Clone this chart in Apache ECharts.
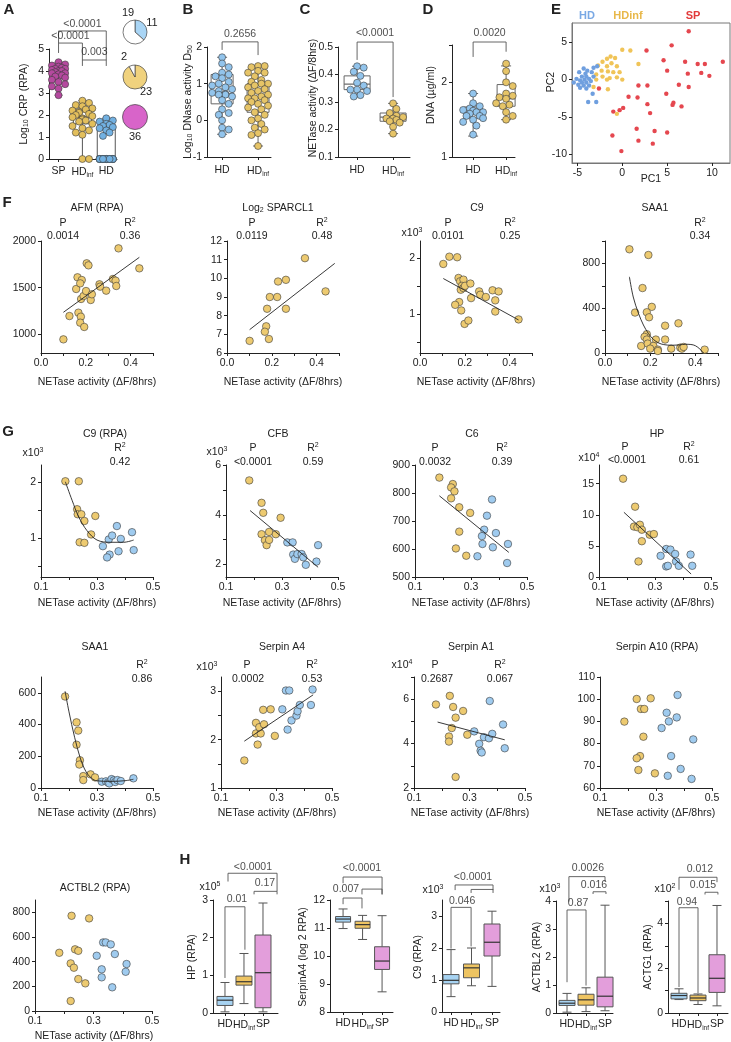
<!DOCTYPE html>
<html><head><meta charset="utf-8">
<script src="https://cdn.jsdelivr.net/npm/echarts@6/dist/echarts.min.js"></script>
<style>html,body{margin:0;padding:0;background:#fff}#c{width:731px;height:1042px}</style>
</head><body><div id="c"></div><script>
// ================= DATA =================
const A_cats = ['SP','HDinf','HD'];
const A_SP = [4.4,4.3,4.25,4.2,4.15,4.1,4.1,4.05,4.0,4.0,3.95,3.9,3.9,3.85,3.8,3.75,3.7,3.6,3.5,3.4,3.3,3.2,2.9];
const A_HDinf = [2.65,2.55,2.45,2.4,2.3,2.25,2.2,2.15,2.1,2.05,2.0,1.95,1.9,1.85,1.8,1.75,1.7,1.6,1.5,1.4,1.3,1.2,1.1,0,0];
const A_HD = [1.85,1.75,1.7,1.6,1.55,1.5,1.45,1.4,1.3,1.2,1.05,0,0,0,0,0,0,0,0,0,0,0,0,0,0,0,0,0,0,0];
const A_box = [[2.9,3.7,3.95,4.15,4.4],[0,1.6,1.9,2.2,2.65],[0,0,0,1.4,1.85]];
const A_pieHD = [11,19], A_pieHDinf = [23,2], A_pieSP = [36];
const A_p = ['<0.0001','<0.0001','0.003'];

const BD_cats = ['HD','HDinf'];
const B_HD = [1.72,1.55,1.45,1.3,1.25,1.2,1.15,1.05,1.0,0.95,0.9,0.85,0.8,0.75,0.72,0.7,0.7,0.65,0.55,0.45,0.3,0.2,0.15,0.0,-0.2,-0.25,-0.38];
const B_HDinf = [1.48,1.48,1.45,1.35,1.3,1.3,1.2,1.1,1.05,1.0,1.0,0.95,0.9,0.85,0.8,0.75,0.7,0.65,0.6,0.6,0.55,0.5,0.45,0.4,0.35,0.3,0.22,0.15,0.05,0.0,-0.1,-0.2,-0.25,-0.35,-0.4,-0.7];
const B_box = [[-0.38,0.45,0.72,1.25,1.72],[-0.7,0.22,0.62,1.0,1.48]];
const B_p = '0.2656';
const C_HD = [0.43,0.425,0.41,0.395,0.37,0.36,0.345,0.345,0.34,0.325,0.32];
const C_HDinf = [0.295,0.275,0.26,0.25,0.245,0.24,0.24,0.235,0.23,0.225,0.21,0.185];
const C_box = [[0.32,0.345,0.365,0.395,0.43],[0.185,0.23,0.245,0.26,0.295]];
const C_p = '<0.0001';
const D_HD = [1.85,1.72,1.68,1.65,1.63,1.62,1.6,1.6,1.58,1.55,1.55,1.52,1.5,1.47,1.42,1.3];
const D_HDinf = [2.25,2.15,2.0,1.95,1.85,1.82,1.8,1.78,1.75,1.72,1.7,1.68,1.6,1.55,1.5];
const D_box = [[1.28,1.52,1.6,1.67,1.85],[1.5,1.68,1.78,1.97,2.22]];
const D_p = '0.0020';

const E_HD = [[-4.3,1.5],[-3.9,1.2],[-4.8,1.0],[-4.1,0.8],[-3.4,1.0],[-4.5,0.4],[-4.0,0.4],[-5.1,0.1],[-4.7,-0.1],[-4.2,0.0],[-3.7,0.1],[-3.2,0.4],[-4.5,-0.4],[-4.0,-0.4],[-4.9,-0.7],[-4.3,-0.8],[-3.7,-0.8],[-4.7,-1.1],[-4.0,-1.2],[-3.3,-1.9],[-3.8,-3.0],[-2.9,-3.0],[-2.8,1.8],[-3.2,1.6],[-5.4,-0.4],[-3.5,-0.2]];
const E_HDinf = [[0.0,4.0],[0.9,3.9],[-1.3,3.1],[-1.7,2.8],[-0.8,2.9],[-2.2,2.4],[-1.2,2.2],[1.8,2.1],[-2.7,1.9],[-1.7,1.8],[-0.6,1.8],[-2.3,1.2],[-1.6,1.1],[-1.0,1.0],[-0.3,1.0],[-2.9,0.7],[-2.2,0.4],[-1.4,0.2],[-0.6,0.3],[0.0,0.0],[-2.9,0.0],[-1.7,0.0],[-3.2,-1.0],[-1.6,-1.3],[-0.6,-4.6]];
const E_SP = [[7.4,6.5],[5.5,4.6],[2.7,3.9],[4.6,2.6],[5.0,1.2],[7.0,2.4],[8.4,2.1],[9.2,2.1],[11.2,2.4],[8.8,0.9],[7.3,0.8],[9.7,0.5],[-2.6,-1.2],[1.8,-0.8],[2.8,-0.8],[6.3,-0.7],[7.4,-1.0],[4.9,-1.9],[0.7,-2.3],[1.7,-2.4],[5.7,-3.1],[5.6,-3.4],[2.8,-3.3],[6.6,-3.6],[0.1,-3.8],[-0.3,-4.1],[-1.0,-4.3],[3.1,-4.5],[1.6,-6.6],[3.6,-6.9],[5.0,-7.1],[-1.1,-7.5],[1.8,-8.2],[3.4,-8.6],[-0.1,-9.6]];

const F_AFM = [[0.100,946],[0.127,1196],[0.157,1486],[0.163,1611],[0.182,1582],[0.175,1546],[0.167,1232],[0.178,1189],[0.175,1125],[0.193,1079],[0.179,1379],[0.190,1411],[0.201,1464],[0.204,1761],[0.212,1739],[0.222,1368],[0.227,1429],[0.261,1536],[0.264,1511],[0.291,1468],[0.321,1593],[0.333,1575],[0.336,1518],[0.346,1921],[0.439,1707]];
const F_AFM_fit = [[0.10,1236],[0.439,1825]];
const F_SPARCL1 = [[0.101,6.65],[0.175,7.43],[0.169,7.14],[0.187,6.75],[0.179,8.37],[0.191,9.0],[0.224,9.0],[0.228,9.83],[0.263,9.92],[0.263,8.37],[0.348,11.08],[0.440,9.3]];
const F_SPARCL1_fit = [[0.101,7.25],[0.481,10.8]];
const F_C9 = [[0.104,1.89],[0.131,2.02],[0.166,2.01],[0.172,1.64],[0.179,1.58],[0.194,1.61],[0.187,1.50],[0.182,1.43],[0.194,1.46],[0.201,1.50],[0.225,1.54],[0.175,1.21],[0.157,1.16],[0.184,1.06],[0.199,0.82],[0.216,0.88],[0.228,1.28],[0.264,1.40],[0.269,1.34],[0.294,1.30],[0.324,1.42],[0.351,1.40],[0.336,1.24],[0.336,1.04],[0.440,0.90]];
const F_C9_fit = [[0.104,1.63],[0.44,0.89]];
const F_SAA1 = [[0.108,926],[0.192,875],[0.166,580],[0.133,361],[0.207,412],[0.185,364],[0.195,319],[0.325,265],[0.266,244],[0.266,120],[0.185,168],[0.175,144],[0.185,120],[0.225,120],[0.160,63],[0.189,84],[0.214,63],[0.200,39],[0.234,30],[0.234,18],[0.293,39],[0.333,48],[0.340,39],[0.348,54],[0.441,30]];
const F_SAA1_fit = [[0.108,680],[0.125,500],[0.148,355],[0.17,250],[0.192,174],[0.215,120],[0.237,90],[0.26,75],[0.296,69],[0.33,72],[0.355,78],[0.38,76],[0.4,65],[0.42,35],[0.436,0]];
const F_stats = [['0.0014','0.36'],['0.0119','0.48'],['0.0101','0.25'],[null,'0.34']];

const G_C9_inf = [[0.187,2.01],[0.235,2.01],[0.229,1.51],[0.231,1.42],[0.244,1.42],[0.255,1.30],[0.294,1.39],[0.279,1.06],[0.238,0.92],[0.255,0.91]];
const G_C9_hd = [[0.321,0.85],[0.342,0.97],[0.354,1.04],[0.371,1.21],[0.385,0.98],[0.425,1.10],[0.431,0.78],[0.377,0.76],[0.345,0.70],[0.336,0.65]];
const G_C9_fit = [[0.187,2.0],[0.211,1.67],[0.235,1.37],[0.264,1.13],[0.3,0.96],[0.348,0.92],[0.395,0.92],[0.431,0.96]];
const G_CFB_inf = [[0.183,5.38],[0.227,4.48],[0.233,4.08],[0.227,3.22],[0.239,2.98],[0.245,2.78],[0.254,2.99],[0.254,3.31],[0.278,3.22],[0.295,3.88]];
const G_CFB_hd = [[0.319,2.89],[0.338,2.89],[0.340,2.40],[0.346,2.23],[0.355,2.42],[0.370,2.42],[0.376,2.29],[0.385,1.99],[0.423,2.12],[0.429,2.78]];
const G_CFB_fit = [[0.186,4.17],[0.429,1.89]];
const G_C6_inf = [[0.187,855],[0.235,832],[0.229,820],[0.241,806],[0.229,781],[0.258,749],[0.297,729],[0.258,662],[0.246,602],[0.283,576]];
const G_C6_hd = [[0.375,777],[0.357,719],[0.347,669],[0.339,646],[0.389,657],[0.341,618],[0.378,606],[0.432,618],[0.323,574],[0.429,550]];
const G_C6_fit = [[0.187,790],[0.435,588]];
const G_HP_inf = [[0.186,15.8],[0.229,11.3],[0.225,8.1],[0.237,8.0],[0.246,8.4],[0.253,7.6],[0.253,5.75],[0.281,6.8],[0.296,6.9],[0.241,2.5]];
const G_HP_hd = [[0.320,3.4],[0.340,4.5],[0.355,4.4],[0.372,3.7],[0.375,2.5],[0.340,1.7],[0.346,1.8],[0.385,1.8],[0.427,3.6],[0.433,1.8]];
const G_HP_fit = [[0.189,10.4],[0.429,0.48]];
const G_SAA1_inf = [[0.186,577],[0.227,414],[0.233,362],[0.227,273],[0.239,175],[0.237,148],[0.251,75],[0.251,50],[0.277,86],[0.293,67]];
const G_SAA1_hd = [[0.317,40],[0.332,42],[0.340,35],[0.344,29],[0.352,56],[0.360,48],[0.365,38],[0.373,50],[0.385,44],[0.430,61]];
const G_SAA1_fit = [[0.186,610],[0.2,480],[0.22,320],[0.24,190],[0.26,105],[0.28,62],[0.3,45],[0.35,42],[0.4,46],[0.43,55]];
const G_A4_inf = [[0.184,1.57],[0.226,2.35],[0.226,2.13],[0.243,2.13],[0.238,2.26],[0.255,2.32],[0.232,1.90],[0.252,2.62],[0.279,2.63],[0.294,2.08]];
const G_A4_hd = [[0.321,2.63],[0.334,3.02],[0.346,3.02],[0.340,2.21],[0.354,2.40],[0.372,2.50],[0.376,2.59],[0.384,2.72],[0.424,2.72],[0.430,3.04]];
const G_A4_fit = [[0.184,1.97],[0.432,2.93]];
const G_A1_inf = [[0.179,5.76],[0.229,6.15],[0.241,5.65],[0.277,5.47],[0.250,5.17],[0.236,4.70],[0.292,4.40],[0.226,4.32],[0.226,4.09],[0.250,2.50]];
const G_A1_hd = [[0.317,4.55],[0.352,4.29],[0.370,4.24],[0.382,4.44],[0.373,5.92],[0.421,4.86],[0.335,3.99],[0.340,3.68],[0.344,3.60],[0.427,3.79]];
const G_A1_fit = [[0.185,4.97],[0.427,4.17]];
const G_A10_inf = [[0.187,89.9],[0.231,100.1],[0.281,100.4],[0.246,95.6],[0.258,95.6],[0.255,83.1],[0.243,74.4],[0.231,73.4],[0.237,68.1],[0.296,66.6]];
const G_A10_hd = [[0.338,93.9],[0.374,91.8],[0.346,90.0],[0.320,87.0],[0.377,101.9],[0.433,81.9],[0.354,74.4],[0.388,68.6],[0.342,65.5],[0.427,64.1]];
const G_ACT_inf = [[0.183,472],[0.225,772],[0.285,751],[0.237,500],[0.248,488],[0.222,386],[0.233,351],[0.248,259],[0.272,224],[0.222,81]];
const G_ACT_hd = [[0.311,448],[0.333,556],[0.342,556],[0.359,540],[0.373,462],[0.413,381],[0.410,318],[0.328,338],[0.328,273],[0.364,192]];
const G_stats = {C9:[null,'0.42'],CFB:['<0.0001','0.59'],C6:['0.0032','0.39'],HP:['<0.0001','0.61'],SAA1:[null,'0.86'],A4:['0.0002','0.53'],A1:['0.2687','0.067']};

const H_cats = ['HD','HDinf','SP'];
const H_HP = [[0.03,0.2,0.34,0.44,0.81],[0.25,0.74,0.83,0.98,1.58],[0.03,0.14,1.07,2.07,2.92]];
const H_A4 = [[10.98,11.21,11.32,11.41,11.68],[10.59,10.99,11.12,11.24,11.45],[8.72,9.52,9.82,10.33,11.44]];
const H_C9 = [[0.48,0.88,0.99,1.17,1.95],[0.82,1.07,1.38,1.5,2.0],[0.8,1.75,2.18,2.75,3.15]];
const H_ACTBL2 = [[0.03,0.27,0.35,0.45,0.7],[0.05,0.28,0.47,0.67,0.9],[0.08,0.22,0.6,1.28,3.85]];
const H_ACTG1 = [[0.6,0.63,0.78,0.88,1.08],[0.38,0.55,0.67,0.8,0.85],[0.32,0.92,1.55,2.6,4.8]];
const H_p = {HP:['<0.0001','0.17','0.01'],A4:['<0.0001','0.007'],C9:['<0.0001','0.046'],ACTBL2:['0.0026','0.016','0.87'],ACTG1:['0.012','0.015','0.94']};

// ================= STYLE / HELPERS =================
const FONT = '"Liberation Sans", Arial, Helvetica, sans-serif';
const INK = '#222';
const YEL = '#edca70', BLU = '#9fcbef', PUR = '#b5499f';
const FS = 10.5;
const RICH_AX = {
  n:{fontSize:FS,fontFamily:FONT,color:INK},
  s:{fontSize:6.5,fontFamily:FONT,color:INK,padding:[6,0,0,0]}
};
const RICHG = {
  n:{fontSize:FS,fontFamily:FONT,fill:INK,color:INK},
  sub:{fontSize:7,fontFamily:FONT,fill:INK,color:INK,padding:[5,0,0,0]},
  sup:{fontSize:7,fontFamily:FONT,fill:INK,color:INK,padding:[0,0,6,0]}
};
const grids=[], xAxes=[], yAxes=[], series=[], graphics=[];
const PI2 = Math.PI/2;

function catLab(name){ return name==='HDinf' ? '{n|HD}{s|inf}' : '{n|'+name+'}'; }
function ax(min,max,ticks,labels,fmt,extra){
  return Object.assign({
    type:'value', min, max,
    axisLine:{show:true,onZero:false,lineStyle:{color:INK,width:1}},
    axisTick:{show:true,length:3,customValues:ticks,lineStyle:{color:INK,width:1}},
    axisLabel:{show:true,customValues:labels,formatter:fmt,fontFamily:FONT,fontSize:FS,color:INK,margin:5,rich:RICH_AX},
    splitLine:{show:false}
  }, extra||{});
}
function addGrid(left,top,width,height,xa,ya,gextra){
  const i=grids.length;
  grids.push(Object.assign({left,top,width,height,containLabel:false},gextra||{}));
  xa.gridIndex=i; ya.gridIndex=i; xAxes.push(xa); yAxes.push(ya);
  return i;
}
function T(x,y,text,o){
  o=o||{};
  const st={text, fill:o.color||INK, fontSize:o.size||FS, fontFamily:FONT, fontWeight:o.bold?'bold':'normal',
    align:o.align||'center', verticalAlign:'middle', textAlign:o.align||'center', textVerticalAlign:'middle'};
  if(o.rich) st.rich=RICHG;
  graphics.push({type:'text', x, y, rotation:o.rot||0, silent:true, z:100, style:st});
}
function pts(gi,data,color,size,z){
  series.push({type:'scatter',xAxisIndex:gi,yAxisIndex:gi,data,symbolSize:size||7.5,silent:true,animation:false,z:z||3,
    itemStyle:{color,borderColor:'#3a3a3a',borderWidth:0.6,opacity:1}});
}
function fit(gi,data,smooth){
  series.push({type:'line',xAxisIndex:gi,yAxisIndex:gi,data,symbol:'none',smooth:smooth?0.35:false,silent:true,animation:false,z:4,
    lineStyle:{color:'#222',width:0.9}});
}
function bracket(gi,x1,x2,y,b1,b2,label,lx,ly){
  series.push({type:'line',xAxisIndex:gi,yAxisIndex:gi,data:[[x1,b1],[x1,y],[x2,y],[x2,b2]],symbol:'none',clip:false,silent:true,animation:false,z:5,
    lineStyle:{color:'#555',width:0.9}});
  if(label!==null && label!==undefined){
    series.push({type:'scatter',xAxisIndex:gi,yAxisIndex:gi,data:[[lx,ly]],symbolSize:1,clip:false,silent:true,animation:false,z:6,
      itemStyle:{color:'rgba(0,0,0,0)'},
      label:{show:true,position:'inside',formatter:label,fontFamily:FONT,fontSize:FS,color:INK}});
  }
}
function boxes(gi,bx,colors,halfW,capHalf,stroke,medColor,z){
  series.push({type:'custom',xAxisIndex:gi,yAxisIndex:gi,silent:true,animation:false,clip:false,z:z||2,
    data:bx.map((b,i)=>[i].concat(b)),
    encode:{x:0,y:[1,2,3,4,5]},
    renderItem:function(params,api){
      const x=api.value(0);
      const p=[1,2,3,4,5].map(k=>api.coord([x,api.value(k)]));
      const cx=p[0][0], col=colors[params.dataIndex];
      const ls={stroke,lineWidth:1,fill:null};
      return {type:'group',children:[
        {type:'line',shape:{x1:cx,y1:p[0][1],x2:cx,y2:p[1][1]},style:ls},
        {type:'line',shape:{x1:cx,y1:p[3][1],x2:cx,y2:p[4][1]},style:ls},
        {type:'line',shape:{x1:cx-capHalf,y1:p[0][1],x2:cx+capHalf,y2:p[0][1]},style:ls},
        {type:'line',shape:{x1:cx-capHalf,y1:p[4][1],x2:cx+capHalf,y2:p[4][1]},style:ls},
        {type:'rect',shape:{x:cx-halfW,y:p[3][1],width:2*halfW,height:Math.max(0.5,p[1][1]-p[3][1])},style:{fill:col,stroke,lineWidth:1}},
        {type:'line',shape:{x1:cx-halfW,y1:p[2][1],x2:cx+halfW,y2:p[2][1]},style:{stroke:medColor,lineWidth:1.2}}
      ]};
    }});
}
function swarm(vals,pxX,pxY,r,maxPx){
  const order=vals.map((v,i)=>i).sort((a,b)=>vals[b]-vals[a]);
  const placed=[], off=new Array(vals.length).fill(0);
  const step=r*0.95, cands=[0];
  for(let k=1;k*step<=maxPx;k++){cands.push(k*step,-k*step);}
  let fb=0;
  order.forEach(i=>{
    const yp=vals[i]*pxY;
    let c=cands.find(cx=>placed.every(p=>(p[0]-cx)*(p[0]-cx)+(p[1]-yp)*(p[1]-yp)>=(1.75*r)*(1.75*r)));
    if(c===undefined){c=cands[fb++%cands.length];}
    placed.push([c,yp]); off[i]=c/pxX;
  });
  return off;
}
function dots(gi,cat,vals,color,pxX,pxY,maxPx,size){
  const off=swarm(vals,pxX,pxY,(size||7)/2,maxPx);
  pts(gi,vals.map((v,i)=>[cat+off[i],v]),color,size||7);
}
const f1=v=>v.toFixed(1), f0=v=>String(v);
const catFmt=cats=>(v=>catLab(cats[Math.round(v)]));
const NET='NETase activity (ΔF/8hrs)';

// ================= PANEL A =================
let g = addGrid(49,49,68,110, ax(-0.4,2.45,[0,1,2],[0,1,2],catFmt(A_cats),{axisLabel:{customValues:[0,1,2],formatter:catFmt(A_cats),fontFamily:FONT,fontSize:FS,color:INK,margin:7,rich:RICH_AX}}),
  ax(0,5,[0,1,2,3,4,5],[0,1,2,3,4,5],f0));
boxes(g,A_box,['rgba(255,255,255,0)','rgba(255,255,255,0)','rgba(255,255,255,0)'],9,4,'#555','#555',2);
dots(g,0,A_SP,PUR,24,22,9,7);
dots(g,1,A_HDinf,'#e3bf5c',24,22,10,7);
dots(g,2,A_HD,'#72b1e2',24,22,9,7);
bracket(g,0,2,5.82,5.27,4.5,A_p[0],1.0,6.14);
bracket(g,0,1,5.27,4.82,4.5,A_p[1],0.5,5.6);
bracket(g,1,2,4.5,4.23,4.23,A_p[2],1.5,4.84);
const pieBase={type:'pie',radius:12,startAngle:90,clockwise:true,silent:true,animation:false,label:{show:false},labelLine:{show:false},itemStyle:{borderColor:'#444',borderWidth:0.7}};
series.push(Object.assign({},pieBase,{center:[135,32],data:A_pieHD.map((v,i)=>({value:v,itemStyle:{color:i?'#ffffff':'#a9d5f5'}}))}));
series.push(Object.assign({},pieBase,{center:[135,77],data:A_pieHDinf.map((v,i)=>({value:v,itemStyle:{color:i?'#ffffff':'#f0d27e'}}))}));
series.push(Object.assign({},pieBase,{center:[135,117],radius:12.5,data:A_pieSP.map(v=>({value:v,itemStyle:{color:'#d864c9'}}))}));
T(128,13,String(A_pieHD[1]),{size:11}); T(152,23,String(A_pieHD[0]),{size:11});
T(124,57,String(A_pieHDinf[1]),{size:11}); T(146,92,String(A_pieHDinf[0]),{size:11});
T(135,137,String(A_pieSP[0]),{size:11});
T(9,10,'A',{bold:true,size:15});
T(24,104,'{n|Log}{sub|10}{n| CRP (RPA)}',{rot:PI2,rich:true});

// ================= PANEL B =================
const catAxBD = (min,max)=>ax(min,max,[0,1],[0,1],catFmt(BD_cats),{axisLabel:{customValues:[0,1],formatter:catFmt(BD_cats),fontFamily:FONT,fontSize:FS,color:INK,margin:8,rich:RICH_AX}});
g = addGrid(207,47,64,110, catAxBD(-0.42,1.36), ax(-1,2,[-1,0,1,2],[-1,0,1,2],f0));
boxes(g,B_box,['rgba(255,255,255,0)','rgba(255,255,255,0)'],11,5,'#666','#666',2);
dots(g,0,B_HD,'#92c4ec',36,36.7,13,7);
dots(g,1,B_HDinf,'#e6c467',36,36.7,13,7);
bracket(g,0,1,2.14,1.92,1.78,B_p,0.5,2.36);
T(188,10,'B',{bold:true,size:15});
T(188,102,'{n|Log}{sub|10}{n| DNase activity D}{sub|50}',{rot:PI2,rich:true});

// ================= PANEL C =================
g = addGrid(338,47,72,110, catAxBD(-0.53,1.47), ax(0.1,0.5,[0.1,0.2,0.3,0.4,0.5],[0.1,0.2,0.3,0.4,0.5],f1));
boxes(g,C_box,['rgba(255,255,255,0)','rgba(255,255,255,0)'],13,5,'#666','#666',2);
dots(g,0,C_HD,'#92c4ec',36,275,13,7);
dots(g,1,C_HDinf,'#e6c467',36,275,13,7);
bracket(g,0,1,0.518,0.453,0.318,C_p,0.5,0.551);
T(305,10,'C',{bold:true,size:15});
T(313,98,NET,{rot:PI2});

// ================= PANEL D =================
g = addGrid(452,45,63,112, catAxBD(-0.64,1.27), ax(1,2.5,[1,2,2.5],[1,2],f0));
boxes(g,D_box,['rgba(255,255,255,0)','rgba(255,255,255,0)'],9,5,'#666','#666',2);
dots(g,0,D_HD,'#92c4ec',33,74,12,7);
dots(g,1,D_HDinf,'#e6c467',33,74,12,7);
bracket(g,0,1,2.54,2.34,2.41,D_p,0.5,2.66);
T(428,10,'D',{bold:true,size:15});
T(431,95,'DNA (µg/ml)',{rot:PI2});

// ================= PANEL E =================
const eAx=(min,max,vals)=>ax(min,max,vals,vals,f0,{axisLine:{show:true,onZero:false,lineStyle:{color:'#777',width:1}}});
g = addGrid(572,23,158,140, eAx(-5.6,12,[-5,0,5,10]), eAx(-11.2,7.6,[-10,-5,0,5]), {show:true,borderColor:'#777',borderWidth:1,backgroundColor:'rgba(0,0,0,0)'});
pts(g,E_SP,'#e5474f',4.4); series[series.length-1].itemStyle.borderWidth=0;
pts(g,E_HDinf,'#f0c458',4.4); series[series.length-1].itemStyle.borderWidth=0;
pts(g,E_HD,'#6f9fdf',4.4); series[series.length-1].itemStyle.borderWidth=0;
T(556,10,'E',{bold:true,size:15});
T(587,16,'HD',{bold:true,size:11,color:'#79a8e4'});
T(628,16,'HDinf',{bold:true,size:11,color:'#e8b84a'});
T(693,16,'SP',{bold:true,size:11,color:'#e23b3b'});
T(651,179,'PC1'); T(551,82,'PC2',{rot:PI2});

// ================= ROW F =================
const xF = ()=>ax(0,0.5,[0,0.1,0.2,0.3,0.4,0.5],[0,0.2,0.4],f1);
const xG = ()=>ax(0.1,0.5,[0.1,0.2,0.3,0.4,0.5],[0.1,0.3,0.5],f1);
T(7,203,'F',{bold:true,size:15});
g = addGrid(41,241,112,112, xF(), ax(800,2000,[1000,1500,2000],[1000,1500,2000],f0));
pts(g,F_AFM,YEL); fit(g,F_AFM_fit);
T(97,208,'AFM (RPA)'); T(63,223,'P'); T(63,236,F_stats[0][0]); T(130,223,'{n|R}{sup|2}',{rich:true}); T(130,236,F_stats[0][1]);
T(97,382,NET);
g = addGrid(227,241,112,112, xF(), ax(6,12,[6,7,8,9,10,11,12],[6,7,8,9,10,11,12],f0));
pts(g,F_SPARCL1,YEL); fit(g,F_SPARCL1_fit);
T(278,208,'{n|Log}{sub|2}{n| SPARCL1}',{rich:true}); T(252,223,'P'); T(252,236,F_stats[1][0]); T(322,223,'{n|R}{sup|2}',{rich:true}); T(322,236,F_stats[1][1]);
T(283,382,NET);
g = addGrid(420,241,112,112, xF(), ax(0.3,2.3,[0.5,1,1.5,2],[1,2],f0));
pts(g,F_C9,YEL); fit(g,F_C9_fit);
T(477,208,'C9'); T(448,223,'P'); T(448,236,F_stats[2][0]); T(510,223,'{n|R}{sup|2}',{rich:true}); T(510,236,F_stats[2][1]);
T(412,233,'{n|x10}{sup|3}',{rich:true});
T(476,382,NET);
g = addGrid(605,241,113,112, xF(), ax(0,1000,[0,200,400,600,800,1000],[0,400,800],f0));
pts(g,F_SAA1,YEL); fit(g,F_SAA1_fit,true);
T(655,208,'SAA1'); T(700,223,'{n|R}{sup|2}',{rich:true}); T(700,236,F_stats[3][1]);
T(661,382,NET);

// ================= ROW G =================
T(8,432,'G',{bold:true,size:15});
g = addGrid(41,465,112,112, xG(), ax(0.3,2.3,[0.5,1,1.5,2],[1,2],f0));
fit(g,G_C9_fit,true); pts(g,G_C9_inf,YEL); pts(g,G_C9_hd,BLU);
T(105,434,'C9 (RPA)'); T(120,448,'{n|R}{sup|2}',{rich:true}); T(120,462,G_stats.C9[1]); T(33,453,'{n|x10}{sup|3}',{rich:true});
T(97,603,NET);
g = addGrid(226,465,112,112, xG(), ax(1.5,6,[2,3,4,5,6],[2,4,6],f0));
fit(g,G_CFB_fit); pts(g,G_CFB_inf,YEL); pts(g,G_CFB_hd,BLU);
T(278,434,'CFB'); T(253,448,'P'); T(253,462,G_stats.CFB[0]); T(313,448,'{n|R}{sup|2}',{rich:true}); T(313,462,G_stats.CFB[1]); T(217,452,'{n|x10}{sup|3}',{rich:true});
T(282,603,NET);
g = addGrid(415,465,112,112, xG(), ax(500,900,[500,600,700,800,900],[500,600,700,800,900],f0));
fit(g,G_C6_fit); pts(g,G_C6_inf,YEL); pts(g,G_C6_hd,BLU);
T(472,434,'C6'); T(435,448,'P'); T(435,462,G_stats.C6[0]); T(502,448,'{n|R}{sup|2}',{rich:true}); T(502,462,G_stats.C6[1]);
T(471,603,NET);
g = addGrid(599,465,112,112, xG(), ax(0,18,[0,5,10,15],[0,5,10,15],f0));
fit(g,G_HP_fit); pts(g,G_HP_inf,YEL); pts(g,G_HP_hd,BLU);
T(657,434,'HP'); T(625,447,'P'); T(627,460,G_stats.HP[0]); T(689,447,'{n|R}{sup|2}',{rich:true}); T(689,460,G_stats.HP[1]); T(589,458,'{n|x10}{sup|4}',{rich:true});
T(655,603,NET);

g = addGrid(41,677,112,111, xG(), ax(0,700,[0,200,400,600],[0,200,400,600],f0));
fit(g,G_SAA1_fit,true); pts(g,G_SAA1_inf,YEL); pts(g,G_SAA1_hd,BLU);
T(95,647,'SAA1'); T(142,665,'{n|R}{sup|2}',{rich:true}); T(142,679,G_stats.SAA1[1]);
T(97,813,NET);
g = addGrid(221,677,111,111, xG(), ax(1,3.3,[1,1.5,2,2.5,3],[1,2,3],f0));
fit(g,G_A4_fit); pts(g,G_A4_inf,YEL); pts(g,G_A4_hd,BLU);
T(282,647,'Serpin A4'); T(207,667,'{n|x10}{sup|3}',{rich:true}); T(247,665,'P'); T(248,679,G_stats.A4[0]); T(312,665,'{n|R}{sup|2}',{rich:true}); T(312,679,G_stats.A4[1]);
T(277,813,NET);
g = addGrid(414,677,111,111, xG(), ax(2,7,[2,3,4,5,6,7],[2,4,6],f0));
fit(g,G_A1_fit); pts(g,G_A1_inf,YEL); pts(g,G_A1_hd,BLU);
T(471,647,'Serpin A1'); T(402,665,'{n|x10}{sup|4}',{rich:true}); T(435,665,'P'); T(437,679,G_stats.A1[0]); T(500,665,'{n|R}{sup|2}',{rich:true}); T(500,679,G_stats.A1[1]);
T(470,813,NET);
g = addGrid(600,677,112,111, xG(), ax(60,110,[60,70,80,90,100,110],[60,70,80,90,100,110],f0));
pts(g,G_A10_inf,YEL); pts(g,G_A10_hd,BLU);
T(657,647,'Serpin A10 (RPA)');
T(656,813,NET);

g = addGrid(35,900,117,111, xG(), ax(0,900,[0,200,400,600,800],[0,200,400,600,800],f0));
pts(g,G_ACT_inf,YEL); pts(g,G_ACT_hd,BLU);
T(95,888,'ACTBL2 (RPA)');
T(94,1036,NET);

// ================= PANEL H =================
T(185,860,'H',{bold:true,size:15});
const HC=['#a7d3f2','#eec462','#e39edb'];
const hX=(min,max)=>ax(min,max,[0,1,2],[0,1,2],catFmt(H_cats),{axisLabel:{customValues:[0,1,2],formatter:catFmt(H_cats),fontFamily:FONT,fontSize:FS+0.5,color:INK,margin:6,rich:RICH_AX}});
g = addGrid(213,900,65,113, hX(-0.63,2.79), ax(0,3,[0,1,2,3],[0,1,2,3],f0));
boxes(g,H_HP,HC,8,4.5,'#555','#333',3);
bracket(g,0.16,2.74,3.71,3.49,3.23,H_p.HP[0],1.47,3.88);
bracket(g,1.53,2.74,3.23,3.15,3.15,H_p.HP[1],2.1,3.45);
bracket(g,0,1.05,2.82,0.93,1.68,H_p.HP[2],0.63,3.02);
T(192,957,'HP (RPA)',{rot:PI2}); T(210,887,'{n|x10}{sup|5}',{rich:true});

g = addGrid(330,900,63,112, hX(-0.67,2.56), ax(8,12,[8,9,10,11,12],[8,9,10,11,12],f0));
boxes(g,H_A4,HC,7.5,4.5,'#555','#333',3);
bracket(g,0,2,12.82,12.6,12.2,H_p.A4[0],0.97,13.15);
bracket(g,0.97,2,12.39,12.2,12.2,null);
bracket(g,0,0.97,12.07,11.85,11.7,H_p.A4[1],0.15,12.39);
T(303,957,'SerpinA4 (log 2 RPA)',{rot:PI2});

g = addGrid(442,900,58,112, hX(-0.44,2.39), ax(0,3.5,[0,1,2,3],[0,1,2,3],f0));
boxes(g,H_C9,HC,8,4.5,'#555','#333',3);
bracket(g,0.2,2.05,3.97,3.81,3.81,H_p.C9[0],1.07,4.2);
bracket(g,0.98,2.05,3.83,3.72,3.72,null);
bracket(g,0,0.98,3.27,1.98,2.05,H_p.C9[1],0.54,3.46);
T(418,957,'C9 (RPA)',{rot:PI2}); T(433,890,'{n|x10}{sup|3}',{rich:true});

g = addGrid(556,901,57,112, hX(-0.58,2.42), ax(0,4,[0,1,2,3,4],[0,1,2,3,4],f0));
boxes(g,H_ACTBL2,HC,8,4.5,'#555','#333',3);
bracket(g,0.1,2.0,4.87,3.98,4.69,H_p.ACTBL2[0],1.1,5.19);
bracket(g,1.37,2.05,4.33,4.25,4.25,H_p.ACTBL2[1],1.42,4.56);
bracket(g,0,1.0,3.68,1.1,0.98,H_p.ACTBL2[2],0.58,3.94);
T(537,957,'ACTBL2 (RPA)',{rot:PI2}); T(550,889,'{n|x10}{sup|3}',{rich:true});

g = addGrid(668,901,60,112, hX(-0.58,2.58), ax(0,5,[0,1,2,3,4,5],[0,2,4],f0));
boxes(g,H_ACTG1,HC,8,4.5,'#555','#333',3);
bracket(g,0,2.0,6.06,5.5,5.84,H_p.ACTG1[0],1.1,6.44);
bracket(g,1.37,2.05,5.39,5.29,5.29,H_p.ACTG1[1],1.26,5.7);
bracket(g,0,1.0,4.7,1.16,0.89,H_p.ACTG1[2],0.42,4.96);
T(648,957,'ACTG1 (RPA)',{rot:PI2}); T(665,889,'{n|x10}{sup|2}',{rich:true});

// ================= RENDER =================
const chart = echarts.init(document.getElementById('c'), null, {renderer:'canvas', width:731, height:1042});
chart.setOption({
  backgroundColor:'#ffffff',
  animation:false,
  textStyle:{fontFamily:FONT},
  grid:grids, xAxis:xAxes, yAxis:yAxes, series,
  graphic:{elements:graphics}
});
</script></body></html>
